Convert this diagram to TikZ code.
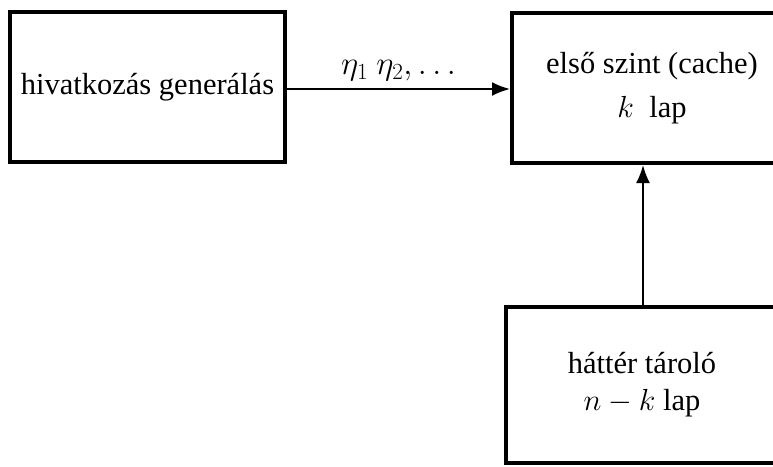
\RequirePackage{fix-cm}
\documentclass[tikz,border=0pt]{standalone}
\usepackage{amsmath}
\usepackage{fontspec}
\setmainfont{Liberation Serif}
\usetikzlibrary{arrows.meta,positioning}
\tikzset{
  blokk/.style={draw,line width=4pt,rectangle,align=center,
    font=\fontsize{30.5}{34}\selectfont,inner sep=0pt},
  nyil/.style={line width=2pt,-{Latex[length=18pt,width=14pt]}}
}

\begin{document}
\begin{tikzpicture}[x=1pt,y=-1pt]
  \useasboundingbox (0,0) rectangle (773,466);
  \clip (0,0) rectangle (773,466);
  % dobozok
  \node[blokk,minimum width=275,minimum height=150] (gen) at (147.5,87)
    {hivatkozás generálás};
  \node[blokk,minimum width=280,minimum height=150] (cache) at (652,88)
    {első szint (cache)\\[10pt]$k$\ \ lap};
  \node[blokk,minimum width=272,minimum height=156] (hatter) at (642,385)
    {háttér tároló\\[3pt]$n-k$ lap};
  % nyilak
  \draw[nyil] (gen.east|-0,89) -- node[above=4pt,font=\fontsize{33}{36}\selectfont]
    {$\eta_1\ \eta_2, \ldots$} (cache.west|-0,89);
  \draw[nyil] (hatter.north-|643,0) -- (cache.south-|643,0);
\end{tikzpicture}
\end{document}
